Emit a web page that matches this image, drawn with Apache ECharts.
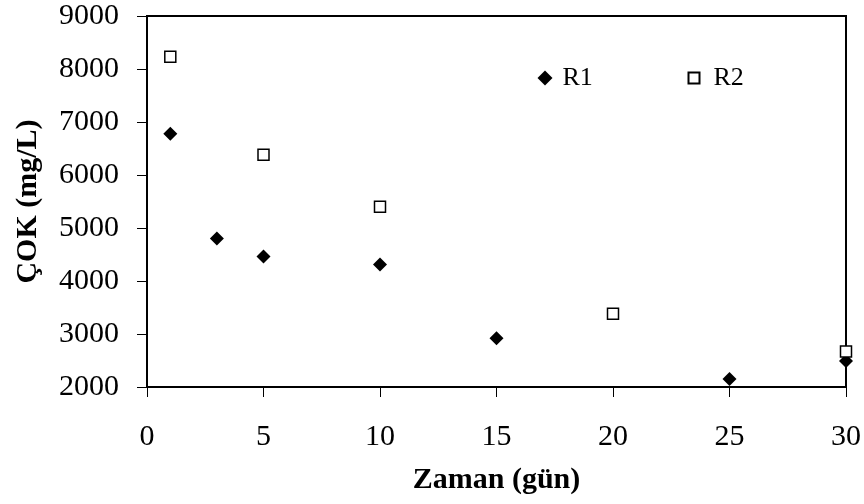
<!DOCTYPE html>
<html>
<head>
<meta charset="utf-8">
<script src="https://cdn.jsdelivr.net/npm/echarts@6/dist/echarts.min.js"></script>
<style>
html, body { margin: 0; padding: 0; background: #fff; }
#chart { width: 864px; height: 504px; }
</style>
</head>
<body>
<div id="chart"></div>
<script>
// veriler
const r1Days = [1, 3, 5, 10, 15, 25, 30]
const r1Cod = [6780, 4800, 4460, 4310, 2920, 2150, 2490]
const r2Days = [1, 5, 10, 20, 30]
const r2Cod = [8230, 6380, 5400, 3380, 2670]
const xTicks = [0, 5, 10, 15, 20, 25, 30]
const yTicks = [2000, 3000, 4000, 5000, 6000, 7000, 8000, 9000]

const font = 'Liberation Serif'
const pair = (xs, ys) => xs.map((x, i) => [x, ys[i]])
const legendText = { fontFamily: font, fontSize: 26, color: '#000' }

let myChart = echarts.init(document.getElementById('chart'))
let option = {
  animation: false,
  textStyle: { fontFamily: font, color: '#000' },
  grid: {
    left: 147, top: 16, right: 17, bottom: 117,
    show: true, borderColor: '#000', borderWidth: 2
  },
  legend: [
    {
      left: 537.5, top: 65, padding: 0,
      itemWidth: 15, itemHeight: 15,
      textStyle: Object.assign({ padding: [0, 0, 0, 5] }, legendText),
      data: ['R1']
    },
    {
      left: 687.5, top: 65, padding: 0,
      itemWidth: 11, itemHeight: 11,
      textStyle: Object.assign({ padding: [0, 0, 0, 9] }, legendText),
      data: ['R2']
    }
  ],
  xAxis: {
    type: 'value',
    min: xTicks[0], max: xTicks[xTicks.length - 1], interval: 5,
    name: 'Zaman (gün)',
    nameLocation: 'middle',
    nameGap: 78,
    nameTextStyle: { fontFamily: font, fontSize: 30, fontWeight: 'bold', color: '#000' },
    axisLine: { lineStyle: { color: '#000', width: 2 } },
    axisTick: { show: true, length: 10, lineStyle: { color: '#000', width: 1 } },
    axisLabel: { fontFamily: font, fontSize: 30, color: '#000', margin: 35 },
    splitLine: { show: false }
  },
  yAxis: {
    type: 'value',
    min: yTicks[0], max: yTicks[yTicks.length - 1], interval: 1000,
    name: 'ÇOK (mg/L)',
    nameLocation: 'middle',
    nameGap: 104,
    nameRotate: 90,
    nameTextStyle: { fontFamily: font, fontSize: 30, fontWeight: 'bold', color: '#000' },
    axisLine: { show: true, lineStyle: { color: '#000', width: 2 } },
    axisTick: { show: true, length: 10, lineStyle: { color: '#000', width: 1 } },
    axisLabel: { fontFamily: font, fontSize: 30, color: '#000', margin: 28, formatter: v => String(v) },
    splitLine: { show: false }
  },
  series: [
    {
      name: 'R1',
      type: 'scatter',
      symbol: 'diamond',
      symbolSize: 14,
      itemStyle: { color: '#000', opacity: 1 },
      data: pair(r1Days, r1Cod)
    },
    {
      name: 'R2',
      type: 'scatter',
      symbol: 'rect',
      symbolSize: 11,
      itemStyle: { color: '#fff', borderColor: '#000', borderWidth: 1.5, opacity: 1 },
      data: pair(r2Days, r2Cod)
    }
  ]
}
myChart.setOption(option, true)
</script>
</body>
</html>
